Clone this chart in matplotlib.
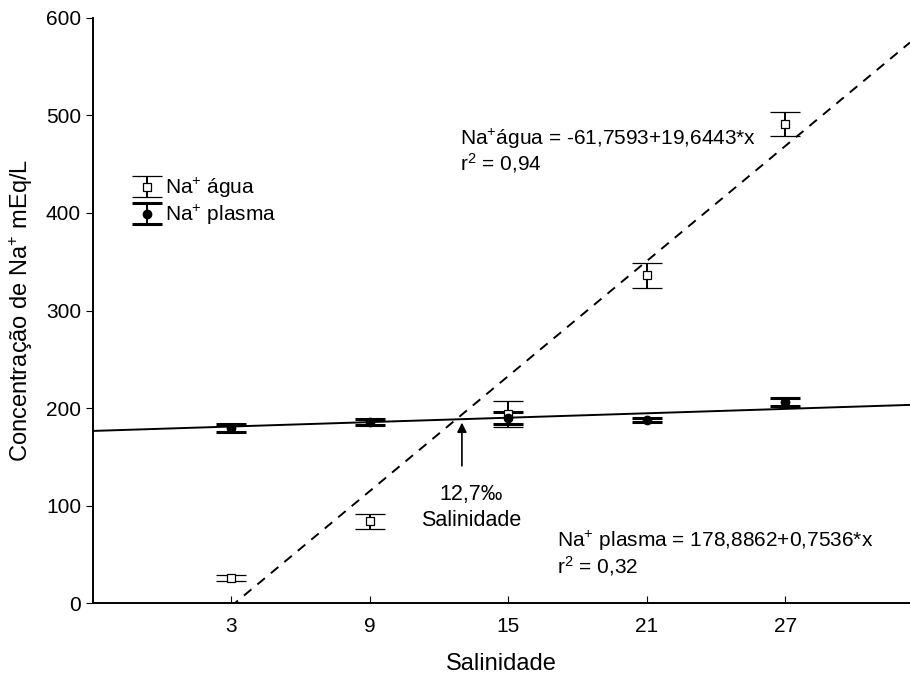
import numpy as np
import matplotlib
matplotlib.use('Agg')
import matplotlib.pyplot as plt

plt.rcParams['font.family'] = ['Liberation Sans', 'DejaVu Sans']
plt.rcParams['mathtext.fontset'] = 'custom'
plt.rcParams['mathtext.rm'] = 'Liberation Sans'
plt.rcParams['mathtext.it'] = 'Liberation Sans'

# salinidade (‰)
sal = [3, 9, 15, 21, 27]
# Na+ na água
agua = [26, 84, 194, 336, 491]
agua_err = [3, 8, 13, 13, 12]
# Na+ no plasma
plasma = [180, 186, 190, 188, 206]
plasma_err = [4, 3, 6, 2, 4]

# retas ajustadas
a_agua, b_agua = -61.7593, 19.6443
a_plasma, b_plasma = 178.8862, 0.7536

fig = plt.figure(figsize=(9.1, 6.84), dpi=100)
ax = fig.add_axes([0.102, 0.118, 0.898, 0.856])

xs = np.array([-3, 32.4])
ax.plot(xs, a_agua + b_agua * xs, color='black', ls=(0, (5, 4)), lw=1.4)
ax.plot(xs, a_plasma + b_plasma * xs, color='black', ls='-', lw=1.4)

ax.errorbar(sal, agua, yerr=agua_err, fmt='s', mfc='white', mec='black',
            ms=6, mew=0.9, ecolor='black', elinewidth=1.4, capsize=11,
            capthick=2.2, label='Na$^{+}$ água', zorder=3)
ax.errorbar(sal, plasma, yerr=plasma_err, fmt='o', mfc='black', mec='black',
            ms=6, ecolor='black', elinewidth=1.4, capsize=11,
            capthick=2.2, label='Na$^{+}$ plasma', zorder=3)

# ponto de intersecção
xi = (a_plasma - a_agua) / (b_agua - b_plasma)
ax.annotate('', xy=(xi + 0.25, 188), xytext=(xi + 0.25, 138),
            arrowprops=dict(arrowstyle='-|>', color='black', lw=1.2,
                            mutation_scale=14))
ax.text(13.4, 105.6, '12,7‰', ha='center', va='baseline', fontsize=15.5)
ax.text(13.4, 79, 'Salinidade', ha='center', va='baseline', fontsize=15.5)

ax.text(12.9, 470, 'Na$^{+}$água = -61,7593+19,6443*x', fontsize=15,
        va='baseline')
ax.text(12.9, 444, 'r$^{2}$ = 0,94', fontsize=15, va='baseline')
ax.text(17.1, 57.4, 'Na$^{+}$ plasma = 178,8862+0,7536*x', fontsize=15,
        va='baseline')
ax.text(17.1, 30.8, 'r$^{2}$ = 0,32', fontsize=15, va='baseline')

ax.set_xlim(-3, 32.4)
ax.set_ylim(0, 600)
ax.set_xticks(sal)
ax.set_yticks(range(0, 601, 100))
ax.tick_params(axis='x', direction='in', length=5, labelsize=15, pad=10)
ax.tick_params(axis='y', direction='out', length=5, labelsize=15)
ax.spines['top'].set_visible(False)
ax.spines['right'].set_visible(False)
ax.spines['left'].set_linewidth(1.4)
ax.spines['bottom'].set_linewidth(1.4)

ax.set_xlabel('Salinidade', fontsize=17, labelpad=12)
ax.set_ylabel('Concentração de Na$^{+}$ mEq/L', fontsize=17, labelpad=8)

leg = ax.legend(loc='upper left', bbox_to_anchor=(0.049, 0.73), frameon=False,
                fontsize=15, handlelength=1.4, handletextpad=0.15,
                labelspacing=0.15, borderpad=0, borderaxespad=0)

fig.savefig('out.png', dpi=100)
